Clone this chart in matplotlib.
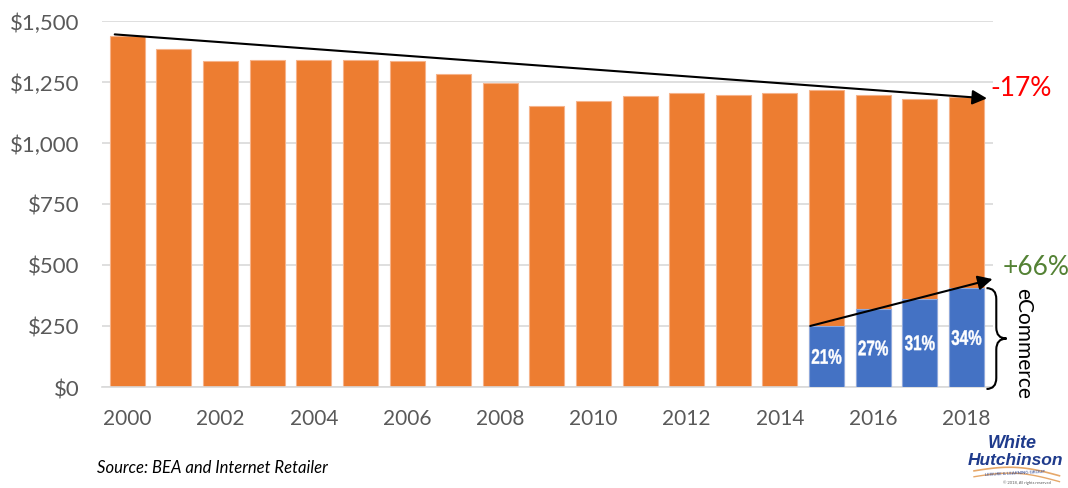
import matplotlib
matplotlib.use("Agg")
import matplotlib.pyplot as plt
from matplotlib.path import Path
from matplotlib.patches import PathPatch
from matplotlib.transforms import Affine2D, IdentityTransform
from matplotlib.textpath import TextPath
from matplotlib.font_manager import FontProperties
import numpy as np

# Consumer spending (billions) by year, with eCommerce portion for recent years
years = list(range(2000, 2019))
totals = [1438, 1385, 1334, 1338, 1338, 1340, 1334, 1283, 1244, 1149,
          1172, 1192, 1204, 1197, 1204, 1217, 1197, 1178, 1189]
ecom_years = [2015, 2016, 2017, 2018]
ecommerce = [250, 320, 362, 405]
ytick_vals = [0, 250, 500, 750, 1000, 1250, 1500]
ytick_labels = ["$0", "$250", "$500", "$750", "$1,000", "$1,250", "$1,500"]
xtick_vals = list(range(2000, 2019, 2))

ORANGE = "#ED7D31"
BLUE = "#4472C4"
GRAY = "#595959"
GRID = "#d9d9d9"

plt.rcParams["font.family"] = ["Lato", "DejaVu Sans"]

DPI = 100
fig = plt.figure(figsize=(10.68, 4.89), dpi=DPI)
ax = fig.add_axes([0.0952, 0.2065, 0.8346, 0.7491])

width = 0.75
ax.bar(years, totals, width=width, color=ORANGE, edgecolor="#f6b38a",
       linewidth=0.8, zorder=2)
ax.bar(ecom_years, ecommerce, width=width, color=BLUE, edgecolor="#8fa9dc",
       linewidth=0.8, zorder=3)

ax.set_xlim(1999.45, 2018.57)
ax.set_ylim(0, 1500)
ax.set_yticks(ytick_vals)
ax.set_yticklabels(ytick_labels)
ax.set_xticks(xtick_vals)
ax.set_xticklabels([str(v) for v in xtick_vals])
ax.tick_params(axis="both", length=0, labelsize=15, labelcolor=GRAY)
ax.tick_params(axis="y", labelsize=16, pad=16)
ax.tick_params(axis="x", pad=15)
ax.grid(axis="y", color=GRID, linewidth=1.2, zorder=0)
ax.set_axisbelow(True)
for side in ["top", "right", "left"]:
    ax.spines[side].set_visible(False)
ax.spines["bottom"].set_color(GRID)
ax.spines["bottom"].set_linewidth(1.2)

# share labels inside the eCommerce bars, drawn as narrow bold glyph outlines
label_font = FontProperties(family="Liberation Sans", weight="bold")
tot_map = dict(zip(years, totals))
for yr, e in zip(ecom_years, ecommerce):
    share = round(100 * e / tot_map[yr])
    tp = TextPath((0, 0), f"{share}%", size=15.2, prop=label_font)
    ext = tp.get_extents()
    cx, cy = (ext.x0 + ext.x1) / 2, (ext.y0 + ext.y1) / 2
    px, py = ax.transData.transform((yr, e / 2))
    k = DPI / 72
    tr = Affine2D().translate(-cx, -cy).scale(0.72 * k, k).translate(px, py)
    ax.add_patch(PathPatch(tr.transform_path(tp), facecolor="white",
                           edgecolor="white", linewidth=0.3,
                           transform=IdentityTransform(),
                           clip_on=False, zorder=4))

# overall trend arrow
pct_total = round(100 * (totals[-1] - totals[0]) / totals[0])
ax.annotate("", xy=(2018.44, totals[-1] - 7), xytext=(1999.73, totals[0] + 6),
            arrowprops=dict(arrowstyle="-|>", color="black", lw=1.5,
                            mutation_scale=22, shrinkA=0, shrinkB=0),
            annotation_clip=False, zorder=5)
ax.text(2018.52, 1225, f"{pct_total}%", color="#FF0000", fontsize=19,
        ha="left", va="center", clip_on=False)

# eCommerce trend arrow
ax.annotate("", xy=(2018.56, 442), xytext=(2014.65, ecommerce[0]),
            arrowprops=dict(arrowstyle="-|>", color="black", lw=1.5,
                            mutation_scale=22, shrinkA=0, shrinkB=0),
            annotation_clip=False, zorder=5)
ax.text(2018.78, 492, "+66%", color="#548235", fontsize=19,
        ha="left", va="center", clip_on=False)

# curly brace around the eCommerce bar
x0, xc, xm = 2018.43, 2018.64, 2018.86
ytop, ybot = ecommerce[-1], -8
ymid = (ytop + ybot) / 2
q = 45
verts = [(x0, ytop), (xc, ytop), (xc, ytop - q),
         (xc, ymid + q),
         (xc, ymid), (xm, ymid),
         (xc, ymid), (xc, ymid - q),
         (xc, ybot + q),
         (xc, ybot), (x0, ybot)]
codes = [Path.MOVETO, Path.CURVE3, Path.CURVE3,
         Path.LINETO,
         Path.CURVE3, Path.CURVE3,
         Path.CURVE3, Path.CURVE3,
         Path.LINETO,
         Path.CURVE3, Path.CURVE3]
brace = PathPatch(Path(verts, codes), facecolor="none", edgecolor="black",
                  lw=1.5, clip_on=False, zorder=5)
ax.add_patch(brace)
ax.text(2019.21, ymid - 15, "eCommerce", rotation=-90, ha="center",
        va="center", fontsize=15, color="black", clip_on=False)

# source note
fig.text(0.091, 0.043, "Source: BEA and Internet Retailer", fontsize=12,
         style="italic", color="black", ha="left", va="center")

# company mark
navy = "#1f3b8c"
fig.text(0.948, 0.094, "White", fontsize=13, fontweight="bold",
         style="italic", color=navy, ha="center", va="center",
         family="Liberation Sans")
fig.text(0.951, 0.059, "Hutchinson", fontsize=12.5, fontweight="bold",
         style="italic", color=navy, ha="center", va="center",
         family="Liberation Sans")
t = np.linspace(0, 1, 50)
sx = 0.912 + 0.08 * t
sy = 0.035 + 0.012 * np.sin(np.pi * t) - 0.01 * t
fig.add_artist(plt.Line2D(sx, sy, color="#e6a86a", lw=1.2))
fig.add_artist(plt.Line2D(sx, sy - 0.012, color="#e6a86a", lw=1.0))
fig.text(0.95, 0.031, "LEISURE & LEARNING GROUP", fontsize=3.2,
         color=navy, ha="center", va="center", rotation=3)
fig.text(0.962, 0.012, "\u00a9 2018, All rights reserved", fontsize=3,
         color=GRAY, ha="center", va="center")

fig.savefig("out.png", dpi=DPI)
